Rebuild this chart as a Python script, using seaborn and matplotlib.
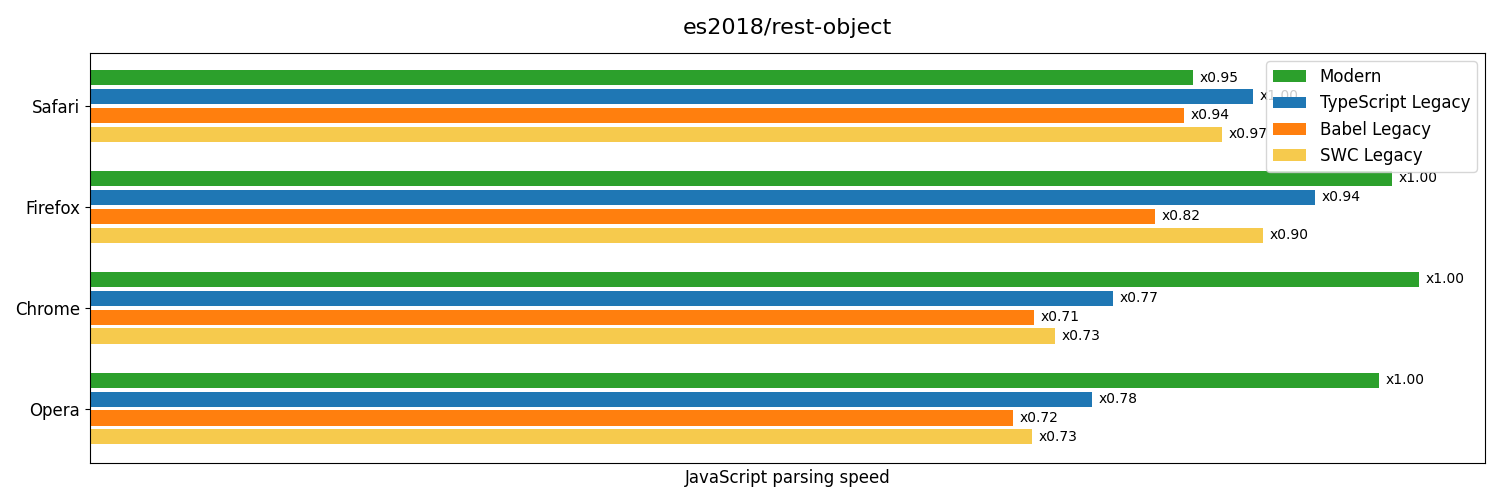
import pandas as pd
import matplotlib
matplotlib.use('Agg')
import matplotlib.pyplot as plt
import seaborn as sns

# Data (bar lengths in arbitrary speed units)
browsers = ['Safari', 'Firefox', 'Chrome', 'Opera']
variants = ['Modern', 'TypeScript Legacy', 'Babel Legacy', 'SWC Legacy']
modern = [1103, 1302, 1329, 1289]
typescript_legacy = [1163, 1225, 1023, 1002]
babel_legacy = [1094, 1065, 944, 923]
swc_legacy = [1132, 1173, 965, 942]
colors = ['#2ca02c', '#1f77b4', '#ff7f0e', '#f6ca4d']

rows = []
for i, b in enumerate(browsers):
    for v, vals in zip(variants, [modern, typescript_legacy, babel_legacy, swc_legacy]):
        rows.append({'browser': b, 'variant': v, 'speed': vals[i]})
df = pd.DataFrame(rows)
df['ratio'] = df['speed'] / df.groupby('browser')['speed'].transform('max')

fig, ax = plt.subplots(figsize=(15, 5), dpi=100)
fig.subplots_adjust(left=0.06, right=0.99, top=0.894, bottom=0.074)

sns.barplot(data=df, y='browser', x='speed', hue='variant', order=browsers,
            hue_order=variants, palette=colors, orient='h', width=0.75,
            gap=0.2, saturation=1, ax=ax)

for cont, v in zip(ax.containers, variants):
    r = df[df['variant'] == v].set_index('browser').loc[browsers, 'ratio']
    ax.bar_label(cont, labels=['x%.2f' % x for x in r], padding=5, fontsize=10)

ax.set_xlim(0, df['speed'].max() * 1.05)
ax.set_ylim(3.54, -0.525)
ax.set_xticks([])
ax.set_xlabel('JavaScript parsing speed', fontsize=12)
ax.set_ylabel('')
ax.tick_params(axis='y', labelsize=12)
ax.set_title('es2018/rest-object', fontsize=16, pad=14)
leg = ax.legend(loc='upper right', fontsize=12, title=None)
leg.set_zorder(10)

plt.savefig('out.png')
